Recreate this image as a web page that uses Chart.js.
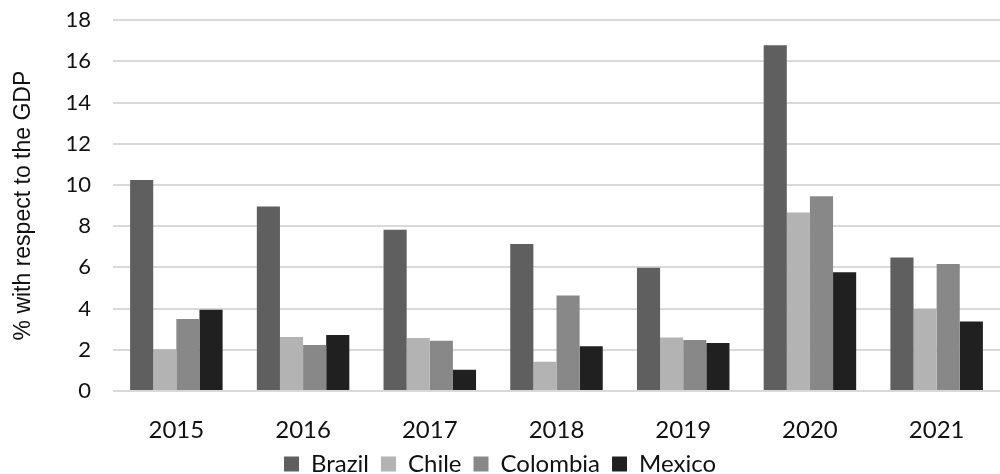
<!DOCTYPE html>
<html>
<head>
<meta charset="utf-8">
<script src="https://cdn.jsdelivr.net/npm/chart.js@4/dist/chart.umd.min.js"></script>
<style>
  html, body { margin: 0; padding: 0; background: #ffffff; }
  #wrap { width: 1000px; height: 474px; position: relative; }
</style>
</head>
<body>
<div id="wrap"><canvas id="c" width="1000" height="474"></canvas></div>
<script>
// Fiscal deficit series, % of GDP
const years = ['2015', '2016', '2017', '2018', '2019', '2020', '2021'];
const brazil   = [10.24, 8.96, 7.83, 7.13, 5.98, 16.78, 6.48];
const chile    = [2.03, 2.62, 2.57, 1.42, 2.60, 8.67, 3.98];
const colombia = [3.49, 2.23, 2.44, 4.63, 2.47, 9.45, 6.16];
const mexico   = [3.95, 2.72, 1.03, 2.17, 2.33, 5.77, 3.37];
const yTicks   = [0, 2, 4, 6, 8, 10, 12, 14, 16, 18];

const series = [
  { label: 'Brazil',   data: brazil,   color: '#5f5f5f' },
  { label: 'Chile',    data: chile,    color: '#b3b3b3' },
  { label: 'Colombia', data: colombia, color: '#888888' },
  { label: 'Mexico',   data: mexico,   color: '#202020' }
];

const family = 'Lato, "Open Sans", sans-serif';

new Chart(document.getElementById('c'), {
  type: 'bar',
  data: {
    labels: years,
    datasets: series.map(s => ({
      label: s.label,
      data: s.data,
      backgroundColor: s.color,
      borderColor: s.color,
      borderWidth: 0,
      categoryPercentage: 0.73,
      barPercentage: 1.0
    }))
  },
  options: {
    responsive: false,
    animation: false,
    devicePixelRatio: 1,
    layout: { padding: { top: 0, right: 0, bottom: -12, left: 0 } },
    plugins: {
      legend: {
        position: 'bottom',
        labels: {
          font: { family, size: 24, lineHeight: 1 },
          color: '#111111',
          boxWidth: 15,
          boxHeight: 15,
          padding: 12
        }
      },
      tooltip: { enabled: false }
    },
    scales: {
      x: {
        grid: { display: false, drawTicks: false },
        border: { display: false },
        ticks: { font: { family, size: 24 }, color: '#111111', padding: 25 },
        afterFit: (scale) => { scale.height = 49; }
      },
      y: {
        min: 0,
        max: 18,
        afterBuildTicks: (scale) => { scale.ticks = yTicks.map(v => ({ value: v })); },
        grid: {
          color: '#d9d9d9',
          lineWidth: 2,
          drawTicks: true,
          tickLength: 15,
          tickColor: 'rgba(0,0,0,0)'
        },
        border: { display: false },
        ticks: { font: { family, size: 22 }, color: '#111111', padding: 7 },
        title: {
          display: true,
          text: '% with respect to the GDP',
          font: { family: '"Liberation Sans", Arial, sans-serif', size: 23 },
          color: '#111111',
          padding: { top: 10, bottom: 0 }
        },
        afterFit: (scale) => { scale.width = 113; }
      }
    }
  }
});
</script>
</body>
</html>
